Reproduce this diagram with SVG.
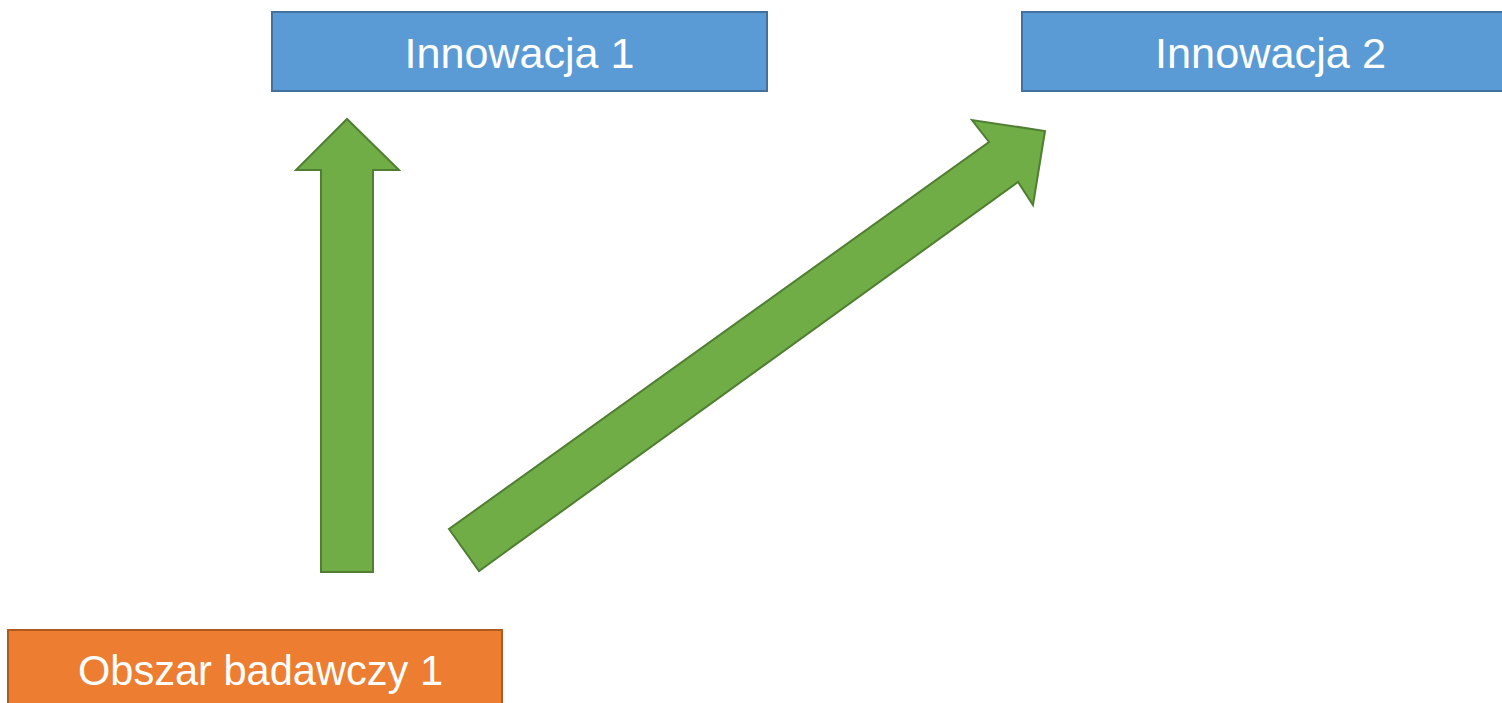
<svg xmlns="http://www.w3.org/2000/svg" width="1502" height="703" viewBox="0 0 1502 703">
<style>
.blue{fill:#5B9BD5;stroke:#41719C;stroke-width:2}
.orange{fill:#ED7D31;stroke:#AE5A21;stroke-width:2}
.arrow{fill:#70AD47;stroke:#507E32;stroke-width:2;stroke-linejoin:miter}
.lbl{font-family:"Liberation Sans",Arial,sans-serif;font-size:43px;fill:#FFFFFF;text-anchor:middle}
</style>
<rect width="1502" height="703" fill="#FFFFFF"/>
<g id="innowacja1">
<rect class="blue" x="272" y="12" width="495" height="79"/>
<text class="lbl" x="519.5" y="68" textLength="230" lengthAdjust="spacingAndGlyphs">Innowacja 1</text>
</g>
<g id="innowacja2">
<rect class="blue" x="1022" y="12" width="497" height="79"/>
<text class="lbl" x="1270.5" y="68" textLength="231" lengthAdjust="spacingAndGlyphs">Innowacja 2</text>
</g>
<g id="obszar">
<rect class="orange" x="8" y="630" width="494" height="90"/>
<text class="lbl" x="260.5" y="685" textLength="365" lengthAdjust="spacingAndGlyphs">Obszar badawczy 1</text>
</g>
<g id="connectors">
<polygon class="arrow" points="321,572 373,572 373,170 399,170 347,119 296,170 321,170"/>
<polygon class="arrow" points="449,529 479,571 1018,182 1033,205 1045,131 972,120 989,142"/>
</g>
</svg>
